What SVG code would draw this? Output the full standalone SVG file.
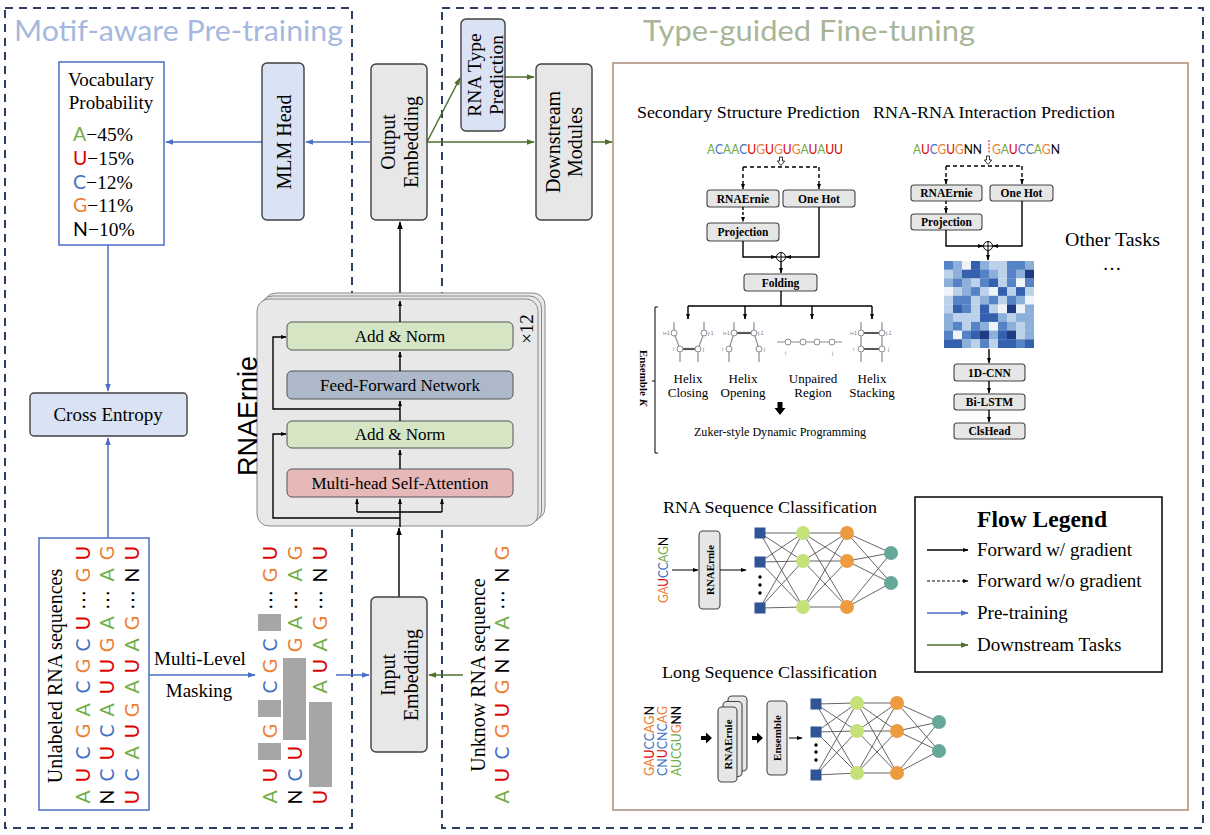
<svg xmlns="http://www.w3.org/2000/svg" width="1210" height="835" viewBox="0 0 1210 835">
<style>
.serif{font-family:"Liberation Serif","Times New Roman",serif}
.sans{font-family:Lato,"Open Sans","DejaVu Sans",sans-serif}
.arial{font-family:"Liberation Sans",Arial,sans-serif}
.a{fill:#70AD47}.u{fill:#E00000}.c{fill:#4472C4}.g{fill:#ED7D31}.n{fill:#000}
.dash{fill:none;stroke:#2E3F66;stroke-width:2;stroke-dasharray:8 6}
.box{stroke:#404040;stroke-width:1.4}
.blue{fill:#DAE3F3}.gray{fill:#E7E7E7}
.sbox{fill:#E6E6E6;stroke:#444;stroke-width:1.1}
.lbl{font-family:"Liberation Serif","Times New Roman",serif;font-size:19px;text-anchor:middle}
.bl{font-family:"Liberation Serif","Times New Roman",serif;font-size:11.5px;font-weight:bold;text-anchor:middle}
.col{font-family:Lato,"Open Sans","DejaVu Sans",sans-serif;font-size:19.5px;text-anchor:middle}
.ln{fill:none;stroke:#000;stroke-width:1.4}
.lb{fill:none;stroke:#4A6FC6;stroke-width:1.5}
.lg{fill:none;stroke:#4F6F2F;stroke-width:1.5}
.hx{fill:none;stroke:#8C8C8C;stroke-width:1.2}
.hb{fill:none;stroke:#555;stroke-width:2.2}
.nd{fill:#fff;stroke:#8C8C8C;stroke-width:1}
.tiny{font-family:"Liberation Sans",Arial,sans-serif;font-size:5px;fill:#777}
.hl{font-family:"Liberation Serif","Times New Roman",serif;font-size:13px;text-anchor:middle}
.nn{fill:none;stroke:#555;stroke-width:0.9}
.lt{font-family:"Liberation Serif","Times New Roman",serif;font-size:19px}
.h0{fill:#EEF3FA}.h1{fill:#BCD2EA}.h2{fill:#8DB0DA}.h3{fill:#5583C6}.h4{fill:#3560AE}.h5{fill:#1F3B85}
</style>
<defs>
<marker id="mk" viewBox="0 0 10 10" refX="9" refY="5" markerWidth="8" markerHeight="8" markerUnits="userSpaceOnUse" orient="auto"><path d="M0,1.5 L10,5 L0,8.5 z" fill="#000"/></marker>
<marker id="ms" viewBox="0 0 10 10" refX="9" refY="5" markerWidth="6" markerHeight="6" markerUnits="userSpaceOnUse" orient="auto"><path d="M0,1.5 L10,5 L0,8.5 z" fill="#000"/></marker>
<marker id="mb" viewBox="0 0 10 10" refX="9" refY="5" markerWidth="8" markerHeight="8" markerUnits="userSpaceOnUse" orient="auto"><path d="M0,1.5 L10,5 L0,8.5 z" fill="#4A6FC6"/></marker>
<marker id="mg" viewBox="0 0 10 10" refX="9" refY="5" markerWidth="8" markerHeight="8" markerUnits="userSpaceOnUse" orient="auto"><path d="M0,1.5 L10,5 L0,8.5 z" fill="#4F6F2F"/></marker>
</defs>
<rect width="1210" height="835" fill="#fff"/>

<g id="pretrain-frame">
<rect class="dash" x="5" y="8" width="347" height="820"/>
<text class="sans" x="14" y="41" font-size="28" fill="#A5B8E0" textLength="329" lengthAdjust="spacingAndGlyphs">Motif-aware Pre-training</text>
</g>
<g id="finetune-frame">
<rect class="dash" x="442" y="8" width="761" height="820"/>
<text class="sans" x="643" y="41" font-size="28" fill="#A9B597" textLength="332" lengthAdjust="spacingAndGlyphs">Type-guided Fine-tuning</text>
<rect x="613" y="63" width="575" height="747" fill="none" stroke="#BFA898" stroke-width="2"/>
</g>

<g id="connectors">
<path class="lb" d="M370,142 H306" marker-end="url(#mb)"/>
<path class="lb" d="M262,142 H166" marker-end="url(#mb)"/>
<path class="lg" d="M427,142 H534" marker-end="url(#mg)"/>
<path class="lg" d="M427,142 L460,78" marker-end="url(#mg)"/>
<path class="lg" d="M505,77 H534" marker-end="url(#mg)"/>
<path class="lg" d="M592,142 H612" marker-end="url(#mg)"/>
<path class="ln" d="M400,301 V222" marker-end="url(#mk)"/>
<path class="lb" d="M108,245 V391" marker-end="url(#mb)"/>
<path class="lb" d="M108,538 V438" marker-end="url(#mb)"/>
<path class="lb" d="M149,675 H255" marker-end="url(#mb)"/>
<path class="lb" d="M336,675 H369" marker-end="url(#mb)"/>
<path class="lg" d="M463,675 H429" marker-end="url(#mg)"/>
<path class="ln" d="M399,597 V528" marker-end="url(#mk)"/>
</g>

<g id="vocab">
<rect x="59" y="62" width="105" height="183" fill="#fff" stroke="#4A6FC6" stroke-width="1.5"/>
<text class="lbl" x="111" y="86">Vocabulary</text>
<text class="lbl" x="111" y="109">Probability</text>
<text class="serif" x="73" y="141" font-size="19.5"><tspan class="sans a">A</tspan>−45%</text>
<text class="serif" x="73" y="165" font-size="19.5"><tspan class="sans u">U</tspan>−15%</text>
<text class="serif" x="73" y="189" font-size="19.5"><tspan class="sans c">C</tspan>−12%</text>
<text class="serif" x="73" y="212" font-size="19.5"><tspan class="sans g">G</tspan>−11%</text>
<text class="serif" x="73" y="236" font-size="19.5"><tspan class="sans n">N</tspan>−10%</text>
</g>

<g id="mlm-head">
<rect class="box blue" x="262" y="63" width="42" height="157" rx="5"/>
<text class="lbl" style="font-size:20px" transform="translate(290.5,142) rotate(-90)">MLM Head</text>
</g>
<g id="output-embedding">
<rect class="box gray" x="371" y="64" width="56" height="156" rx="5"/>
<text class="lbl" style="font-size:20px" transform="translate(394.5,142) rotate(-90)">Output</text>
<text class="lbl" style="font-size:20px" transform="translate(417.5,142) rotate(-90)">Embedding</text>
</g>
<g id="rna-type">
<rect class="box blue" x="461" y="19" width="44" height="112" rx="5"/>
<text class="lbl" transform="translate(481,75) rotate(-90)" style="font-size:19.5px">RNA Type</text>
<text class="lbl" transform="translate(503,75) rotate(-90)" style="font-size:19.5px">Prediction</text>
</g>
<g id="downstream">
<rect class="box gray" x="536" y="64" width="56" height="156" rx="5"/>
<text class="lbl" style="font-size:20px" transform="translate(559.5,142) rotate(-90)">Downstream</text>
<text class="lbl" style="font-size:20px" transform="translate(581.5,142) rotate(-90)">Modules</text>
</g>

<g id="cross-entropy">
<rect class="box blue" x="30" y="393" width="157" height="43" rx="4"/>
<text class="lbl" x="108" y="421">Cross Entropy</text>
</g>

<g id="rnaernie">
<rect x="264" y="293" width="281" height="227" rx="12" fill="#E8E8E8" stroke="#888" stroke-width="1"/>
<rect x="260.5" y="296" width="281" height="227" rx="12" fill="#E8E8E8" stroke="#888" stroke-width="1"/>
<rect x="257" y="299" width="281" height="227" rx="12" fill="#E8E8E8" stroke="#888" stroke-width="1"/>
<text class="arial" font-size="27" text-anchor="middle" transform="translate(257,416) rotate(-90)">RNAErnie</text>
<text class="serif" font-size="19" text-anchor="middle" transform="translate(533,329) rotate(-90)">×12</text>
<rect x="287" y="322" width="226" height="28" rx="5" fill="#D6E6C5" stroke="#555" stroke-width="1"/>
<text class="lbl" style="font-size:17px" x="400" y="342">Add &amp; Norm</text>
<rect x="287" y="371" width="226" height="28" rx="5" fill="#ADB9CA" stroke="#555" stroke-width="1"/>
<text class="lbl" style="font-size:17px" x="400" y="391">Feed-Forward Network</text>
<rect x="287" y="421" width="226" height="27" rx="5" fill="#D6E6C5" stroke="#555" stroke-width="1"/>
<text class="lbl" style="font-size:17px" x="400" y="440">Add &amp; Norm</text>
<rect x="287" y="469" width="226" height="28" rx="5" fill="#E6B8B7" stroke="#555" stroke-width="1"/>
<text class="lbl" style="font-size:17px" x="400" y="489">Multi-head Self-Attention</text>
<path class="ln" d="M400,527 V499" marker-end="url(#ms)"/>
<path class="ln" d="M357,512 H442"/>
<path class="ln" d="M357,512 V499" marker-end="url(#ms)"/>
<path class="ln" d="M442,512 V499" marker-end="url(#ms)"/>
<path class="ln" d="M400,518 H273 V434 H286" marker-end="url(#ms)"/>
<path class="ln" d="M400,469 V450" marker-end="url(#ms)"/>
<path class="ln" d="M400,421 V401" marker-end="url(#ms)"/>
<path class="ln" d="M400,409 H273 V337 H286" marker-end="url(#ms)"/>
<path class="ln" d="M400,371 V352" marker-end="url(#ms)"/>
<path class="ln" d="M400,322 V301" marker-end="url(#ms)"/>
</g>

<g id="unlabeled-seqs">
<rect x="39" y="538" width="110" height="272" fill="#fff" stroke="#4A6FC6" stroke-width="1.5"/>
<text class="serif" font-size="20" text-anchor="middle" transform="translate(62,676) rotate(-90)">Unlabeled RNA sequences</text>
<text class="col" transform="translate(89.5,0) rotate(-90)"><tspan x="-797" class="a">A</tspan><tspan x="-775" class="u">U</tspan><tspan x="-753" class="c">C</tspan><tspan x="-731" class="g">G</tspan><tspan x="-710" class="a">A</tspan><tspan x="-687" class="c">C</tspan><tspan x="-666" class="g">G</tspan><tspan x="-645" class="c">C</tspan><tspan x="-623" class="u">U</tspan><tspan x="-600">⋯</tspan><tspan x="-575" class="g">G</tspan><tspan x="-553" class="u">U</tspan></text>
<text class="col" transform="translate(113.5,0) rotate(-90)"><tspan x="-797" class="n">N</tspan><tspan x="-775" class="c">C</tspan><tspan x="-753" class="u">U</tspan><tspan x="-731" class="c">C</tspan><tspan x="-710" class="a">A</tspan><tspan x="-687" class="u">U</tspan><tspan x="-666" class="u">U</tspan><tspan x="-645" class="g">G</tspan><tspan x="-623" class="a">A</tspan><tspan x="-600">⋯</tspan><tspan x="-575" class="a">A</tspan><tspan x="-553" class="g">G</tspan></text>
<text class="col" transform="translate(138.5,0) rotate(-90)"><tspan x="-797" class="u">U</tspan><tspan x="-775" class="c">C</tspan><tspan x="-753" class="a">A</tspan><tspan x="-731" class="u">U</tspan><tspan x="-710" class="g">G</tspan><tspan x="-687" class="a">A</tspan><tspan x="-666" class="u">U</tspan><tspan x="-645" class="a">A</tspan><tspan x="-623" class="g">G</tspan><tspan x="-600">⋯</tspan><tspan x="-575" class="n">N</tspan><tspan x="-553" class="u">U</tspan></text>
</g>

<g id="masking-label">
<text class="lbl" x="200" y="665">Multi-Level</text>
<text class="lbl" x="199" y="697">Masking</text>
</g>

<g id="masked-seqs">
<rect x="258" y="743" width="23" height="17" fill="#A6A6A6"/>
<rect x="258" y="700" width="23" height="17" fill="#A6A6A6"/>
<rect x="258" y="614" width="23" height="17" fill="#A6A6A6"/>
<rect x="283" y="658" width="23" height="82" fill="#A6A6A6"/>
<rect x="309" y="702" width="23" height="85" fill="#A6A6A6"/>
<text class="col" transform="translate(276.5,0) rotate(-90)"><tspan x="-797" class="a">A</tspan><tspan x="-775" class="u">U</tspan><tspan x="-731" class="g">G</tspan><tspan x="-687" class="c">C</tspan><tspan x="-666" class="g">G</tspan><tspan x="-645" class="c">C</tspan><tspan x="-600">⋯</tspan><tspan x="-575" class="g">G</tspan><tspan x="-553" class="u">U</tspan></text>
<text class="col" transform="translate(301.5,0) rotate(-90)"><tspan x="-797" class="n">N</tspan><tspan x="-775" class="c">C</tspan><tspan x="-753" class="u">U</tspan><tspan x="-645" class="g">G</tspan><tspan x="-623" class="a">A</tspan><tspan x="-600">⋯</tspan><tspan x="-575" class="a">A</tspan><tspan x="-553" class="g">G</tspan></text>
<text class="col" transform="translate(326.5,0) rotate(-90)"><tspan x="-797" class="u">U</tspan><tspan x="-687" class="a">A</tspan><tspan x="-666" class="u">U</tspan><tspan x="-645" class="a">A</tspan><tspan x="-623" class="g">G</tspan><tspan x="-600">⋯</tspan><tspan x="-575" class="n">N</tspan><tspan x="-553" class="u">U</tspan></text>
</g>

<g id="input-embedding">
<rect class="box gray" x="371" y="597" width="56" height="155" rx="5"/>
<text class="lbl" style="font-size:20px" transform="translate(394.5,675) rotate(-90)">Input</text>
<text class="lbl" style="font-size:20px" transform="translate(417.5,675) rotate(-90)">Embedding</text>
</g>

<g id="unknown-seq">
<text class="serif" font-size="20" text-anchor="middle" transform="translate(485,675) rotate(-90)">Unknow RNA sequence</text>
<text class="col" transform="translate(508.5,0) rotate(-90)"><tspan x="-797" class="a">A</tspan><tspan x="-775" class="u">U</tspan><tspan x="-753" class="c">C</tspan><tspan x="-731" class="g">G</tspan><tspan x="-710" class="u">U</tspan><tspan x="-687" class="g">G</tspan><tspan x="-666" class="n">N</tspan><tspan x="-645" class="n">N</tspan><tspan x="-623" class="a">A</tspan><tspan x="-600">⋯</tspan><tspan x="-575" class="n">N</tspan><tspan x="-553" class="g">G</tspan></text>
</g>

<g id="ss-pred">
<text class="serif" x="637" y="118" font-size="16.5" textLength="223" lengthAdjust="spacingAndGlyphs">Secondary Structure Prediction</text>
<text class="sans" x="707" y="154" font-size="13.5" textLength="136" lengthAdjust="spacingAndGlyphs"><tspan class="a">A</tspan><tspan class="c">C</tspan><tspan class="a">AA</tspan><tspan class="c">C</tspan><tspan class="u">U</tspan><tspan class="g">G</tspan><tspan class="u">U</tspan><tspan class="g">G</tspan><tspan class="u">U</tspan><tspan class="g">G</tspan><tspan class="a">A</tspan><tspan class="u">U</tspan><tspan class="a">A</tspan><tspan class="u">UU</tspan></text>
<path d="M779.5,157 v4 h-2.2 l3.7,4.5 l3.7,-4.5 h-2.2 v-4 z" fill="#fff" stroke="#000" stroke-width="0.8"/>
<path class="ln" d="M743,167 H819" stroke-dasharray="4 3"/>
<path class="ln" d="M743,167 V189" stroke-dasharray="4 3" marker-end="url(#ms)"/>
<path class="ln" d="M819,167 V189" stroke-dasharray="4 3" marker-end="url(#ms)"/>
<rect class="sbox" x="707" y="190" width="72" height="17" rx="3"/>
<text class="bl" x="743" y="202.5">RNAErnie</text>
<rect class="sbox" x="783" y="190" width="72" height="17" rx="3"/>
<text class="bl" x="819" y="202.5">One Hot</text>
<path class="ln" d="M743,207 V222" stroke-dasharray="3 2" marker-end="url(#ms)"/>
<rect class="sbox" x="707" y="223" width="72" height="18" rx="3"/>
<text class="bl" x="743" y="236">Projection</text>
<path class="ln" d="M743,241 V257 H776" marker-end="url(#ms)"/>
<path class="ln" d="M819,207 V257 H786" marker-end="url(#ms)"/>
<circle cx="781" cy="257" r="4.5" fill="#fff" stroke="#000" stroke-width="1"/>
<path d="M776.5,257 H785.5 M781,252.5 V261.5" stroke="#000" stroke-width="1"/>
<path class="ln" d="M781,261.5 V273" marker-end="url(#ms)"/>
<rect class="sbox" x="744" y="274" width="73" height="17" rx="3"/>
<text class="bl" x="780.5" y="286.5">Folding</text>
<path class="ln" d="M781,291 V306 M688,306 H872"/>
<path class="ln" d="M688,306 V319" marker-end="url(#ms)"/>
<path class="ln" d="M745,306 V319" marker-end="url(#ms)"/>
<path class="ln" d="M812,306 V319" marker-end="url(#ms)"/>
<path class="ln" d="M872,306 V319" marker-end="url(#ms)"/>
<path class="hx" d="M674,322 V333 L680,349 V362 M704,322 V333 L698,349 V362"/>
<path class="hb" d="M680,349 H698"/>
<circle class="nd" cx="674" cy="333" r="3"/><circle class="nd" cx="704" cy="333" r="3"/>
<circle class="nd" cx="680" cy="349" r="3"/><circle class="nd" cx="698" cy="349" r="3"/>
<text class="tiny" x="663" y="335">i+1</text><text class="tiny" x="708" y="335">j-1</text>
<text class="tiny" x="673" y="351">i</text><text class="tiny" x="703" y="351">j</text>
<path class="hx" d="M734,322 V333 L729,349 V362 M754,322 V333 L759,349 V362"/>
<path class="hb" d="M734,333 H754"/>
<circle class="nd" cx="734" cy="333" r="3"/><circle class="nd" cx="754" cy="333" r="3"/>
<circle class="nd" cx="729" cy="349" r="3"/><circle class="nd" cx="759" cy="349" r="3"/>
<text class="tiny" x="723" y="335">i+1</text><text class="tiny" x="758" y="335">j-1</text>
<text class="tiny" x="722" y="351">i</text><text class="tiny" x="764" y="351">j</text>
<path class="hx" d="M777,342 H842"/>
<circle class="nd" cx="788" cy="342" r="3"/><circle class="nd" cx="803" cy="342" r="3"/>
<circle class="nd" cx="817" cy="342" r="3"/><circle class="nd" cx="832" cy="342" r="3"/>
<text class="tiny" x="785" y="355">i</text><text class="tiny" x="832" y="355">j</text>
<path class="hx" d="M861,322 V362 M882,322 V362"/>
<path class="hb" d="M861,333 H882 M861,349 H882"/>
<circle class="nd" cx="861" cy="333" r="3"/><circle class="nd" cx="882" cy="333" r="3"/>
<circle class="nd" cx="861" cy="349" r="3"/><circle class="nd" cx="882" cy="349" r="3"/>
<text class="tiny" x="850" y="335">i+1</text><text class="tiny" x="886" y="335">j-1</text>
<text class="tiny" x="853" y="351">i</text><text class="tiny" x="888" y="351">j</text>
<text class="hl" x="688" y="383">Helix</text><text class="hl" x="688" y="397">Closing</text>
<text class="hl" x="743" y="383">Helix</text><text class="hl" x="743" y="397">Opening</text>
<text class="hl" x="813" y="383">Unpaired</text><text class="hl" x="813" y="397">Region</text>
<text class="hl" x="872" y="383">Helix</text><text class="hl" x="872" y="397">Stacking</text>
<path d="M777.5,402 h5 v6 h3 l-5.5,7 l-5.5,-7 h3 z" fill="#000"/>
<text class="serif" x="780" y="436" font-size="12.5" text-anchor="middle" textLength="172" lengthAdjust="spacingAndGlyphs">Zuker-style Dynamic Programming</text>
<path class="ln" style="stroke-width:1" d="M658,307 H655 V453 H658 M655,381 H652"/>
<text class="serif" font-size="11" font-weight="bold" text-anchor="middle" transform="translate(640,378) rotate(90)">Ensemble <tspan font-style="italic">K</tspan></text>
</g>

<g id="rri-pred">
<text class="serif" x="873" y="118" font-size="16.5" textLength="242" lengthAdjust="spacingAndGlyphs">RNA-RNA Interaction Prediction</text>
<text class="sans" x="913" y="154" font-size="13.5" textLength="69" lengthAdjust="spacingAndGlyphs"><tspan class="a">A</tspan><tspan class="u">U</tspan><tspan class="c">C</tspan><tspan class="g">G</tspan><tspan class="u">U</tspan><tspan class="g">G</tspan><tspan class="n">NN</tspan></text>
<path d="M989,140 V153" stroke="#E00000" stroke-width="1" stroke-dasharray="2 1.5"/>
<text class="sans" x="992" y="154" font-size="13.5" textLength="68" lengthAdjust="spacingAndGlyphs"><tspan class="g">G</tspan><tspan class="a">A</tspan><tspan class="u">U</tspan><tspan class="c">CC</tspan><tspan class="a">A</tspan><tspan class="g">G</tspan><tspan class="n">N</tspan></text>
<path d="M986.5,156 v4 h-2.2 l3.7,4.5 l3.7,-4.5 h-2.2 v-4 z" fill="#fff" stroke="#000" stroke-width="0.8"/>
<path class="ln" d="M946,166 H1022" stroke-dasharray="4 3"/>
<path class="ln" d="M946,166 V184" stroke-dasharray="4 3" marker-end="url(#ms)"/>
<path class="ln" d="M1022,166 V184" stroke-dasharray="4 3" marker-end="url(#ms)"/>
<rect class="sbox" x="911" y="185" width="71" height="16" rx="3"/>
<text class="bl" x="946.5" y="197">RNAErnie</text>
<rect class="sbox" x="990" y="185" width="63" height="16" rx="3"/>
<text class="bl" x="1021.5" y="197">One Hot</text>
<path class="ln" d="M946,201 V213" stroke-dasharray="3 2" marker-end="url(#ms)"/>
<rect class="sbox" x="911" y="214" width="71" height="16" rx="3"/>
<text class="bl" x="946.5" y="226">Projection</text>
<path class="ln" d="M946,230 V246 H983" marker-end="url(#ms)"/>
<path class="ln" d="M1022,201 V246 H993" marker-end="url(#ms)"/>
<circle cx="988" cy="246" r="4.5" fill="#fff" stroke="#000" stroke-width="1"/>
<path d="M983.5,246 H992.5 M988,241.5 V250.5" stroke="#000" stroke-width="1"/>
<path class="ln" d="M988,250.5 V260" marker-end="url(#ms)"/>
<g id="heatmap">
<rect class="h3" x="944" y="261" width="9.2" height="8.9"/><rect class="h2" x="953" y="261" width="9.2" height="8.9"/><rect class="h0" x="962" y="261" width="9.2" height="8.9"/><rect class="h4" x="971" y="261" width="9.2" height="8.9"/><rect class="h2" x="980" y="261" width="9.2" height="8.9"/><rect class="h1" x="989" y="261" width="9.2" height="8.9"/><rect class="h1" x="998" y="261" width="9.2" height="8.9"/><rect class="h3" x="1007" y="261" width="9.2" height="8.9"/><rect class="h3" x="1016" y="261" width="9.2" height="8.9"/><rect class="h2" x="1025" y="261" width="9" height="8.9"/>
<rect class="h1" x="944" y="269.7" width="9.2" height="8.9"/><rect class="h2" x="953" y="269.7" width="9.2" height="8.9"/><rect class="h4" x="962" y="269.7" width="9.2" height="8.9"/><rect class="h4" x="971" y="269.7" width="9.2" height="8.9"/><rect class="h3" x="980" y="269.7" width="9.2" height="8.9"/><rect class="h2" x="989" y="269.7" width="9.2" height="8.9"/><rect class="h1" x="998" y="269.7" width="9.2" height="8.9"/><rect class="h3" x="1007" y="269.7" width="9.2" height="8.9"/><rect class="h2" x="1016" y="269.7" width="9.2" height="8.9"/><rect class="h5" x="1025" y="269.7" width="9" height="8.9"/>
<rect class="h2" x="944" y="278.4" width="9.2" height="8.9"/><rect class="h3" x="953" y="278.4" width="9.2" height="8.9"/><rect class="h2" x="962" y="278.4" width="9.2" height="8.9"/><rect class="h1" x="971" y="278.4" width="9.2" height="8.9"/><rect class="h3" x="980" y="278.4" width="9.2" height="8.9"/><rect class="h4" x="989" y="278.4" width="9.2" height="8.9"/><rect class="h1" x="998" y="278.4" width="9.2" height="8.9"/><rect class="h3" x="1007" y="278.4" width="9.2" height="8.9"/><rect class="h0" x="1016" y="278.4" width="9.2" height="8.9"/><rect class="h3" x="1025" y="278.4" width="9" height="8.9"/>
<rect class="h0" x="944" y="287.1" width="9.2" height="8.9"/><rect class="h1" x="953" y="287.1" width="9.2" height="8.9"/><rect class="h2" x="962" y="287.1" width="9.2" height="8.9"/><rect class="h3" x="971" y="287.1" width="9.2" height="8.9"/><rect class="h1" x="980" y="287.1" width="9.2" height="8.9"/><rect class="h0" x="989" y="287.1" width="9.2" height="8.9"/><rect class="h4" x="998" y="287.1" width="9.2" height="8.9"/><rect class="h1" x="1007" y="287.1" width="9.2" height="8.9"/><rect class="h4" x="1016" y="287.1" width="9.2" height="8.9"/><rect class="h1" x="1025" y="287.1" width="9" height="8.9"/>
<rect class="h1" x="944" y="295.8" width="9.2" height="8.9"/><rect class="h3" x="953" y="295.8" width="9.2" height="8.9"/><rect class="h3" x="962" y="295.8" width="9.2" height="8.9"/><rect class="h1" x="971" y="295.8" width="9.2" height="8.9"/><rect class="h2" x="980" y="295.8" width="9.2" height="8.9"/><rect class="h3" x="989" y="295.8" width="9.2" height="8.9"/><rect class="h1" x="998" y="295.8" width="9.2" height="8.9"/><rect class="h3" x="1007" y="295.8" width="9.2" height="8.9"/><rect class="h2" x="1016" y="295.8" width="9.2" height="8.9"/><rect class="h0" x="1025" y="295.8" width="9" height="8.9"/>
<rect class="h1" x="944" y="304.5" width="9.2" height="8.9"/><rect class="h4" x="953" y="304.5" width="9.2" height="8.9"/><rect class="h3" x="962" y="304.5" width="9.2" height="8.9"/><rect class="h1" x="971" y="304.5" width="9.2" height="8.9"/><rect class="h4" x="980" y="304.5" width="9.2" height="8.9"/><rect class="h1" x="989" y="304.5" width="9.2" height="8.9"/><rect class="h0" x="998" y="304.5" width="9.2" height="8.9"/><rect class="h5" x="1007" y="304.5" width="9.2" height="8.9"/><rect class="h0" x="1016" y="304.5" width="9.2" height="8.9"/><rect class="h2" x="1025" y="304.5" width="9" height="8.9"/>
<rect class="h2" x="944" y="313.2" width="9.2" height="8.9"/><rect class="h1" x="953" y="313.2" width="9.2" height="8.9"/><rect class="h1" x="962" y="313.2" width="9.2" height="8.9"/><rect class="h1" x="971" y="313.2" width="9.2" height="8.9"/><rect class="h4" x="980" y="313.2" width="9.2" height="8.9"/><rect class="h4" x="989" y="313.2" width="9.2" height="8.9"/><rect class="h2" x="998" y="313.2" width="9.2" height="8.9"/><rect class="h1" x="1007" y="313.2" width="9.2" height="8.9"/><rect class="h2" x="1016" y="313.2" width="9.2" height="8.9"/><rect class="h2" x="1025" y="313.2" width="9" height="8.9"/>
<rect class="h2" x="944" y="321.9" width="9.2" height="8.9"/><rect class="h3" x="953" y="321.9" width="9.2" height="8.9"/><rect class="h1" x="962" y="321.9" width="9.2" height="8.9"/><rect class="h3" x="971" y="321.9" width="9.2" height="8.9"/><rect class="h2" x="980" y="321.9" width="9.2" height="8.9"/><rect class="h0" x="989" y="321.9" width="9.2" height="8.9"/><rect class="h3" x="998" y="321.9" width="9.2" height="8.9"/><rect class="h2" x="1007" y="321.9" width="9.2" height="8.9"/><rect class="h1" x="1016" y="321.9" width="9.2" height="8.9"/><rect class="h2" x="1025" y="321.9" width="9" height="8.9"/>
<rect class="h3" x="944" y="330.6" width="9.2" height="8.9"/><rect class="h0" x="953" y="330.6" width="9.2" height="8.9"/><rect class="h3" x="962" y="330.6" width="9.2" height="8.9"/><rect class="h4" x="971" y="330.6" width="9.2" height="8.9"/><rect class="h5" x="980" y="330.6" width="9.2" height="8.9"/><rect class="h2" x="989" y="330.6" width="9.2" height="8.9"/><rect class="h4" x="998" y="330.6" width="9.2" height="8.9"/><rect class="h5" x="1007" y="330.6" width="9.2" height="8.9"/><rect class="h1" x="1016" y="330.6" width="9.2" height="8.9"/><rect class="h2" x="1025" y="330.6" width="9" height="8.9"/>
<rect class="h4" x="944" y="339.3" width="9.2" height="8.7"/><rect class="h4" x="953" y="339.3" width="9.2" height="8.7"/><rect class="h2" x="962" y="339.3" width="9.2" height="8.7"/><rect class="h1" x="971" y="339.3" width="9.2" height="8.7"/><rect class="h3" x="980" y="339.3" width="9.2" height="8.7"/><rect class="h1" x="989" y="339.3" width="9.2" height="8.7"/><rect class="h4" x="998" y="339.3" width="9.2" height="8.7"/><rect class="h4" x="1007" y="339.3" width="9.2" height="8.7"/><rect class="h3" x="1016" y="339.3" width="9.2" height="8.7"/><rect class="h4" x="1025" y="339.3" width="9" height="8.7"/>
</g>
<path class="ln" d="M989,349 V363" marker-end="url(#ms)"/>
<rect class="sbox" x="954" y="364" width="71" height="17" rx="3"/>
<text class="bl" x="989.5" y="376.5">1D-CNN</text>
<path class="ln" d="M989,381 V393" marker-end="url(#ms)"/>
<rect class="sbox" x="954" y="394" width="71" height="16" rx="3"/>
<text class="bl" x="989.5" y="406">Bi-LSTM</text>
<path class="ln" d="M989,410 V422" marker-end="url(#ms)"/>
<rect class="sbox" x="954" y="423" width="71" height="16" rx="3"/>
<text class="bl" x="989.5" y="435">ClsHead</text>
</g>

<g id="other-tasks">
<text class="serif" x="1065" y="246" font-size="19" textLength="95" lengthAdjust="spacingAndGlyphs">Other Tasks</text>
<text class="serif" x="1112" y="270" font-size="19" text-anchor="middle">…</text>
</g>

<g id="seq-cls">
<text class="serif" x="663" y="513" font-size="16.5" textLength="214" lengthAdjust="spacingAndGlyphs">RNA Sequence Classification</text>
<text class="sans" font-size="13" text-anchor="middle" transform="translate(668,570) rotate(-90)" textLength="66" lengthAdjust="spacingAndGlyphs"><tspan class="g">GA</tspan><tspan class="u">U</tspan><tspan class="c">CC</tspan><tspan class="a">AG</tspan><tspan class="n">N</tspan></text>
<path class="ln" style="stroke-width:1" d="M672,570 H698" marker-end="url(#ms)"/>
<rect class="sbox" x="699" y="531" width="21" height="78" rx="4"/>
<text class="bl" style="font-size:11px" transform="translate(713.5,570) rotate(-90)">RNAErnie</text>
<path class="ln" style="stroke-width:1" d="M720,570 H746" marker-end="url(#ms)"/>
<path class="nn" d="M760,533L803,533 M760,533L803,561 M760,533L803,607 M760,562L803,533 M760,562L803,561 M760,562L803,607 M760,608L803,533 M760,608L803,561 M760,608L803,607 M803,533L847,533 M803,533L847,561 M803,533L847,607 M803,561L847,533 M803,561L847,561 M803,561L847,607 M803,607L847,533 M803,607L847,561 M803,607L847,607 M847,533L891,553 M847,533L891,583 M847,561L891,553 M847,561L891,583 M847,607L891,553 M847,607L891,583"/>
<rect x="754.5" y="527.5" width="11" height="11" fill="#2F5597"/>
<rect x="754.5" y="556.5" width="11" height="11" fill="#2F5597"/>
<rect x="754.5" y="602.5" width="11" height="11" fill="#2F5597"/>
<circle cx="760" cy="577" r="1.7"/><circle cx="760" cy="585" r="1.7"/><circle cx="760" cy="593" r="1.7"/>
<circle cx="803" cy="533" r="7" fill="#C5E17A"/><circle cx="803" cy="561" r="7" fill="#C5E17A"/><circle cx="803" cy="607" r="7" fill="#C5E17A"/>
<circle cx="847" cy="533" r="7" fill="#ED9B40"/><circle cx="847" cy="561" r="7" fill="#ED9B40"/><circle cx="847" cy="607" r="7" fill="#ED9B40"/>
<circle cx="891" cy="553" r="7" fill="#68A89A"/><circle cx="891" cy="583" r="7" fill="#68A89A"/>
</g>

<g id="long-cls">
<text class="serif" x="662" y="678" font-size="16.5" textLength="215" lengthAdjust="spacingAndGlyphs">Long Sequence Classification</text>
<text class="sans" font-size="13" text-anchor="middle" transform="translate(653.5,741) rotate(-90)" textLength="70" lengthAdjust="spacingAndGlyphs"><tspan class="g">GA</tspan><tspan class="u">U</tspan><tspan class="c">CC</tspan><tspan class="g">AG</tspan><tspan class="n">N</tspan></text>
<text class="sans" font-size="13" text-anchor="middle" transform="translate(667,741) rotate(-90)" textLength="70" lengthAdjust="spacingAndGlyphs"><tspan class="c">CN</tspan><tspan class="u">U</tspan><tspan class="c">CNC</tspan><tspan class="g">AG</tspan></text>
<text class="sans" font-size="13" text-anchor="middle" transform="translate(680.5,741) rotate(-90)" textLength="70" lengthAdjust="spacingAndGlyphs"><tspan class="a">AUCGU</tspan><tspan class="g">G</tspan><tspan class="n">NN</tspan></text>
<path d="M701,736 h5 v-3.5 l6,5.5 l-6,5.5 v-3.5 h-5 z" fill="#000"/>
<rect class="sbox" x="728" y="696" width="19" height="75" rx="4"/>
<rect class="sbox" x="723" y="701.5" width="19" height="75" rx="4"/>
<rect class="sbox" x="718" y="707" width="19" height="75" rx="4"/>
<text class="bl" style="font-size:11px" transform="translate(731.5,744.5) rotate(-90)">RNAErnie</text>
<path d="M752,736 h5 v-3.5 l6,5.5 l-6,5.5 v-3.5 h-5 z" fill="#000"/>
<rect class="sbox" x="767" y="701" width="20" height="74" rx="4"/>
<text class="bl" style="font-size:11px" transform="translate(781,738) rotate(-90)">Ensemble</text>
<path class="ln" style="stroke-width:1" d="M789,738 H802" marker-end="url(#ms)"/>
<path class="nn" d="M816,704L857,703 M816,704L857,731 M816,704L857,773 M816,732L857,703 M816,732L857,731 M816,732L857,773 M816,775L857,703 M816,775L857,731 M816,775L857,773 M857,703L897,703 M857,703L897,731 M857,703L897,773 M857,731L897,703 M857,731L897,731 M857,731L897,773 M857,773L897,703 M857,773L897,731 M857,773L897,773 M897,703L939,722 M897,703L939,751 M897,731L939,722 M897,731L939,751 M897,773L939,722 M897,773L939,751"/>
<rect x="810.5" y="698.5" width="11" height="11" fill="#2F5597"/>
<rect x="810.5" y="726.5" width="11" height="11" fill="#2F5597"/>
<rect x="810.5" y="769.5" width="11" height="11" fill="#2F5597"/>
<circle cx="816" cy="745" r="1.7"/><circle cx="816" cy="752" r="1.7"/><circle cx="816" cy="760" r="1.7"/>
<circle cx="857" cy="703" r="7" fill="#C5E17A"/><circle cx="857" cy="731" r="7" fill="#C5E17A"/><circle cx="857" cy="773" r="7" fill="#C5E17A"/>
<circle cx="897" cy="703" r="7" fill="#ED9B40"/><circle cx="897" cy="731" r="7" fill="#ED9B40"/><circle cx="897" cy="773" r="7" fill="#ED9B40"/>
<circle cx="939" cy="722" r="7" fill="#68A89A"/><circle cx="939" cy="751" r="7" fill="#68A89A"/>
</g>

<g id="legend">
<rect x="915" y="497" width="247" height="175" fill="#fff" stroke="#000" stroke-width="1.5"/>
<text class="serif" x="1042" y="527" font-size="23.5" font-weight="bold" text-anchor="middle">Flow Legend</text>
<path class="ln" d="M927,550 H968" marker-end="url(#ms)"/>
<text class="lt" x="977" y="556">Forward w/ gradient</text>
<path class="ln" style="stroke-width:1" d="M927,581 H968" stroke-dasharray="3 2" marker-end="url(#ms)"/>
<text class="lt" x="977" y="587">Forward w/o gradient</text>
<path class="lb" d="M927,613 H968" marker-end="url(#mb)"/>
<text class="lt" x="977" y="619">Pre-training</text>
<path class="lg" d="M927,645 H968" marker-end="url(#mg)"/>
<text class="lt" x="977" y="651">Downstream Tasks</text>
</g>
</svg>
